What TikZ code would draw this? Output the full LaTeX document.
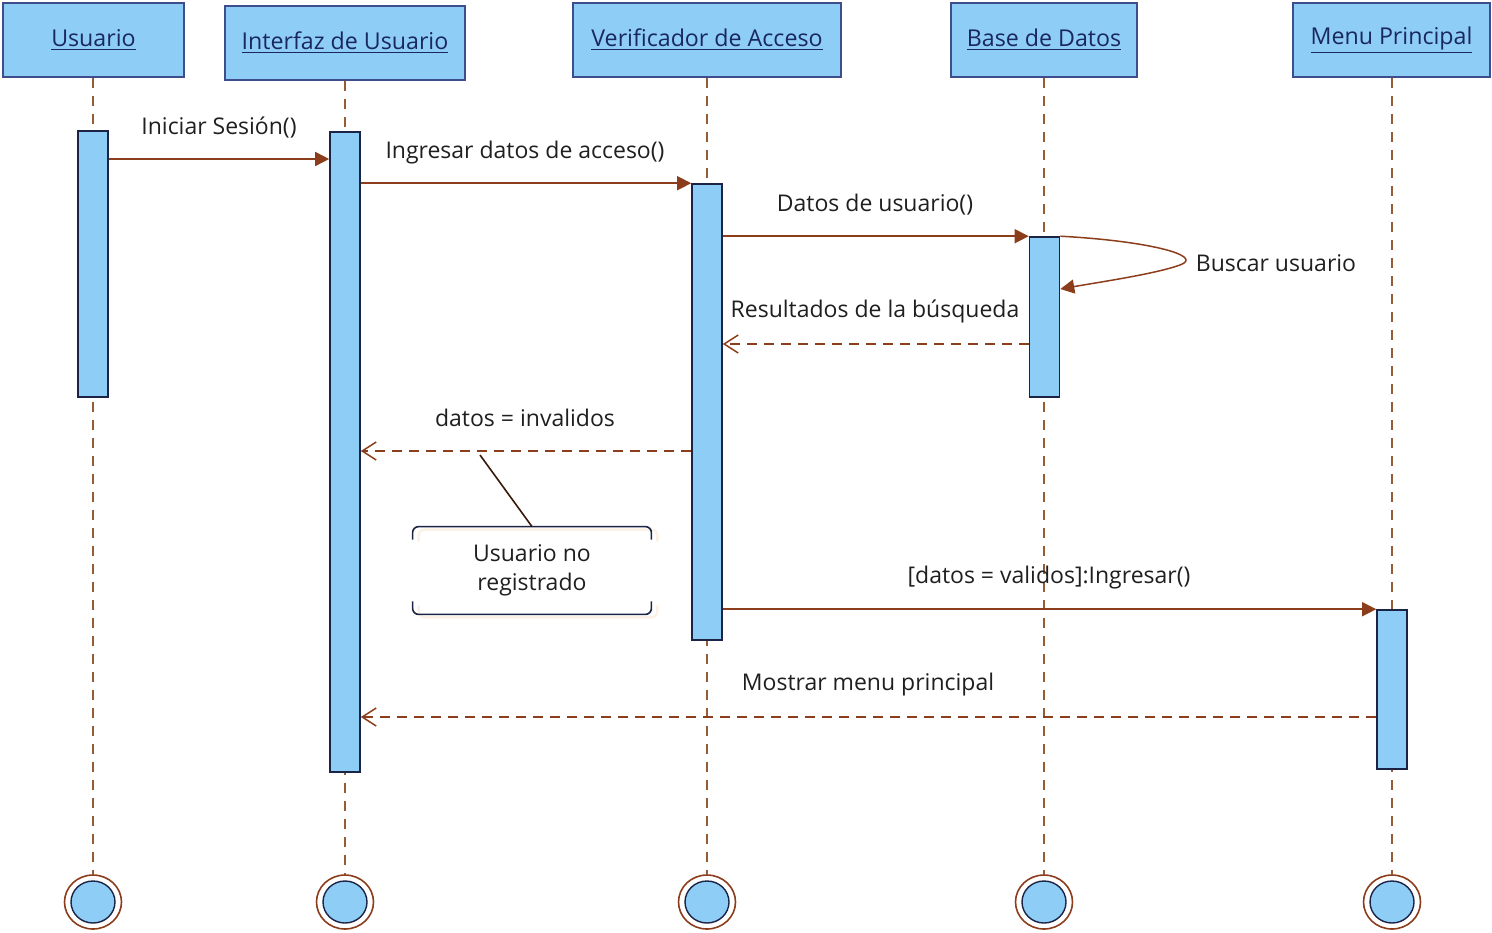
\documentclass[tikz,border=0pt]{standalone}
\usepackage{fontspec}
\setmainfont{Open Sans}
\usetikzlibrary{arrows.meta,shapes.geometric}
\definecolor{barblue}{RGB}{142,205,245}
\definecolor{boxline}{RGB}{62,78,140}
\definecolor{barline}{RGB}{28,36,70}
\definecolor{msgline}{RGB}{140,62,28}
\definecolor{lifeline}{RGB}{150,92,52}
\definecolor{headtext}{RGB}{25,40,95}

\tikzset{
  head/.style={draw=boxline, fill=barblue, line width=0.8pt, minimum height=37pt,
    inner sep=0pt, text=headtext, font=\fontsize{11.6}{13}\selectfont},
  actbar/.style={draw=barline, fill=barblue, line width=0.8pt, minimum width=15pt, inner sep=0pt},
  msg/.style={draw=msgline, line width=0.75pt, -{Triangle[length=7pt,width=7pt]}},
  reply/.style={draw=msgline, line width=0.75pt, dash pattern=on 5pt off 3.5pt,
    -{Straight Barb[length=7pt,width=9pt]}},
  lbl/.style={font=\fontsize{11.5}{14.5}\selectfont, text=black!88, inner sep=0pt},
  life/.style={draw=lifeline, line width=0.7pt, dash pattern=on 5pt off 4pt},
  endring/.style={ellipse, draw=msgline, line width=0.8pt, fill=white,
    minimum width=28.5pt, minimum height=27pt, inner sep=0pt},
  endcore/.style={ellipse, draw=barline, line width=0.7pt, fill=barblue,
    minimum width=22pt, minimum height=21pt, inner sep=0pt},
}

\begin{document}
\begin{tikzpicture}[x=0.5pt,y=-0.5pt]
\useasboundingbox (0,0) rectangle (1492,932);

% participants
\node[head, minimum width=90.5pt] (hU) at (93.5,40) {\underline{Usuario}};
\node[head, minimum width=120pt] (hI) at (345,43) {\underline{Interfaz de Usuario}};
\node[head, minimum width=134pt] (hV) at (707,40) {\underline{Verificador de Acceso}};
\node[head, minimum width=93pt] (hB) at (1044,40) {\underline{Base de Datos}};
\node[head, minimum width=98.5pt] (hM) at (1391.5,40) {\underline{Menu Principal}};

% end marks
\node[endring] (eU) at (93,902) {};
\node[endring] (eI) at (345,902) {};
\node[endring] (eV) at (707,902) {};
\node[endring] (eB) at (1044,902) {};
\node[endring] (eM) at (1392,902) {};
\foreach \e in {eU,eI,eV,eB,eM}
  \node[endcore] at (\e) {};

% lifelines
\draw[life] (hU.south -| eU) -- (eU.north);
\draw[life] (hI.south -| eI) -- (eI.north);
\draw[life] (hV.south -| eV) -- (eV.north);
\draw[life] (hB.south -| eB) -- (eB.north);
\draw[life] (hM.south -| eM) -- (eM.north);

% activations
\node[actbar, minimum height=133pt] (bU) at (93,264) {};
\node[actbar, minimum height=320pt] (bI) at (345,452) {};
\node[actbar, minimum height=228pt] (bV) at (707,412) {};
\node[actbar, minimum height=80pt] (bB) at (1044.5,317) {};
\node[actbar, minimum height=79.5pt] (bM) at (1392,689.5) {};

% messages
\draw[msg] (bU.east |- 0,159) -- (bI.west |- 0,159);
\node[lbl] (l1) at (219,128) {Iniciar Sesión()};
\draw[msg] (bI.east |- bV.north) -- (bV.north west);
\node[lbl] (l2) at (525,153) {Ingresar datos de acceso()};
\draw[msg] (bV.east |- bB.north) -- (bB.north west);
\node[lbl] (l3) at (875,205) {Datos de usuario()};
\draw[msg] (bB.north east) .. controls (1150,241) and (1205,256) .. (1180,265)
  .. controls (1155,274) and (1100,282) .. (bB.east |- 0,289);
\node[lbl] (l4) at (1276,263) {Buscar usuario};
\draw[reply] (bB.west |- 0,344) -- (bV.east |- 0,344);
\node[lbl] (l5) at (875,311) {Resultados de la búsqueda};
\draw[reply] (bV.west |- 0,451) -- (bI.east |- 0,451);
\node[lbl] (l6) at (525,418) {datos = invalidos};
\draw[msg] (bV.east |- bM.north) -- (bM.north west);
\node[lbl] (l7) at (1049,578) {[datos = validos]:Ingresar()};
\draw[reply] (bM.west |- 0,717) -- (bI.east |- 0,717);
\node[lbl] (l8) at (868,685) {Mostrar menu principal};

% note
\node[lbl, minimum width=119pt, minimum height=43.5pt, align=center] (note) at (532,570.5)
  {Usuario no\\registrado};
\coordinate (inv) at (480,455);
\draw[black!12!orange!10, line width=1.2pt, rounded corners=3pt]
  ([xshift=3pt,yshift=-7.5pt]note.north west) -- ([xshift=3pt,yshift=-1.5pt]note.north west)
  -- ([xshift=3pt,yshift=-1.5pt]note.north east) -- ([xshift=3pt,yshift=-7.5pt]note.north east)
  ([xshift=3pt,yshift=4.5pt]note.south west) -- ([xshift=3pt,yshift=-1.5pt]note.south west)
  -- ([xshift=3pt,yshift=-1.5pt]note.south east) -- ([xshift=3pt,yshift=4.5pt]note.south east);
\draw[barline, line width=0.8pt, rounded corners=3pt]
  ([yshift=-6.5pt]note.north west) -- (note.north west) -- (note.north east) -- ([yshift=-6.5pt]note.north east)
  ([yshift=6.5pt]note.south west) -- (note.south west) -- (note.south east) -- ([yshift=6.5pt]note.south east);
\draw[black!60!msgline, line width=0.8pt] (inv) -- (note.north);
\end{tikzpicture}
\end{document}
